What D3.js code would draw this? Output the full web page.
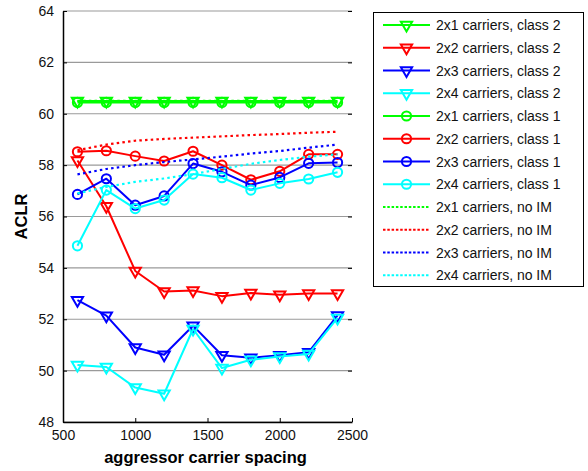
<!DOCTYPE html>
<html>
<head>
<meta charset="utf-8">
<script src="https://cdn.jsdelivr.net/npm/d3@7"></script>
<style>
  html, body { margin: 0; padding: 0; background: #fff; }
  svg { display: block; font-family: "Liberation Sans", Arial, sans-serif; }
</style>
</head>
<body>
<svg id="chart" width="588" height="471"></svg>
<script>
// Aggressor carrier spacing (x) and ACLR results per configuration
const spacing = [600, 800, 1000, 1200, 1400, 1600, 1800, 2000, 2200, 2400];

const class2_2x1 = [60.5, 60.5, 60.5, 60.5, 60.5, 60.5, 60.5, 60.5, 60.5, 60.5];
const class2_2x2 = [58.18, 56.4, 53.88, 53.08, 53.12, 52.9, 53.02, 52.95, 53.0, 53.0];
const class2_2x3 = [52.74, 52.14, 50.9, 50.62, 51.75, 50.6, 50.5, 50.6, 50.72, 52.15];
const class2_2x4 = [50.22, 50.14, 49.34, 49.1, 51.62, 50.1, 50.42, 50.55, 50.65, 52.05];

const class1_2x1 = [60.44, 60.44, 60.44, 60.44, 60.44, 60.44, 60.44, 60.44, 60.44, 60.44];
const class1_2x2 = [58.52, 58.56, 58.35, 58.16, 58.54, 58.0, 57.43, 57.76, 58.42, 58.42];
const class1_2x3 = [56.86, 57.47, 56.44, 56.8, 58.06, 57.74, 57.22, 57.52, 58.07, 58.1];
const class1_2x4 = [54.86, 57.03, 56.31, 56.64, 57.65, 57.51, 57.03, 57.29, 57.46, 57.72];

const noIM_2x1 = [60.5, 60.5, 60.5, 60.5, 60.5, 60.5, 60.5, 60.5, 60.5, 60.5];
const noIM_2x2 = [58.58, 58.8, 58.95, 59.02, 59.07, 59.12, 59.17, 59.21, 59.26, 59.3];
const noIM_2x3 = [57.64, 57.85, 58.0, 58.12, 58.22, 58.33, 58.45, 58.55, 58.68, 58.8];
const noIM_2x4 = [56.9, 57.15, 57.35, 57.48, 57.65, 57.85, 58.05, 58.2, 58.33, 58.42];

const xTicks = [500, 1000, 1500, 2000, 2500];
const yTicks = [48, 50, 52, 54, 56, 58, 60, 62, 64];
const xTitle = "aggressor carrier spacing";
const yTitle = "ACLR";

const colors = { "2x1": "#00ff00", "2x2": "#ff0000", "2x3": "#0000ff", "2x4": "#00ffff" };

// Draw order follows legend order: class 2, class 1, then no-IM references on top
const series = [
  { name: "2x1 carriers, class 2", key: "2x1", kind: "tri", values: class2_2x1 },
  { name: "2x2 carriers, class 2", key: "2x2", kind: "tri", values: class2_2x2 },
  { name: "2x3 carriers, class 2", key: "2x3", kind: "tri", values: class2_2x3 },
  { name: "2x4 carriers, class 2", key: "2x4", kind: "tri", values: class2_2x4 },
  { name: "2x1 carriers, class 1", key: "2x1", kind: "circ", values: class1_2x1 },
  { name: "2x2 carriers, class 1", key: "2x2", kind: "circ", values: class1_2x2 },
  { name: "2x3 carriers, class 1", key: "2x3", kind: "circ", values: class1_2x3 },
  { name: "2x4 carriers, class 1", key: "2x4", kind: "circ", values: class1_2x4 },
  { name: "2x1 carriers, no IM", key: "2x1", kind: "dot", values: noIM_2x1 },
  { name: "2x2 carriers, no IM", key: "2x2", kind: "dot", values: noIM_2x2 },
  { name: "2x3 carriers, no IM", key: "2x3", kind: "dot", values: noIM_2x3 },
  { name: "2x4 carriers, no IM", key: "2x4", kind: "dot", values: noIM_2x4 }
];

const svg = d3.select("#chart");
const plot = { left: 63, right: 352, top: 11, bottom: 422 };

const x = d3.scaleLinear().domain([500, 2500]).range([plot.left, plot.right]);
const y = d3.scaleLinear().domain([48, 64]).range([plot.bottom, plot.top]);

// Horizontal grid
svg.append("g")
  .selectAll("line")
  .data(yTicks)
  .join("line")
  .attr("x1", plot.left).attr("x2", plot.right)
  .attr("y1", d => y(d)).attr("y2", d => y(d))
  .attr("stroke", "#9a9a9a").attr("stroke-width", 1.2);

// Left axis (ticks point inward)
const yAxis = svg.append("g")
  .attr("transform", `translate(${plot.left},0)`)
  .call(d3.axisLeft(y).tickValues(yTicks).tickFormat(d3.format("d"))
    .tickSizeInner(-4).tickSizeOuter(0).tickPadding(9));
// Bottom axis
const xAxis = svg.append("g")
  .attr("transform", `translate(0,${plot.bottom})`)
  .call(d3.axisBottom(x).tickValues(xTicks).tickFormat(d3.format("d"))
    .tickSizeInner(-4).tickSizeOuter(0).tickPadding(8));
// Right-side ticks only
svg.append("g")
  .attr("transform", `translate(${plot.right},0)`)
  .call(d3.axisRight(y).tickValues(yTicks).tickSizeInner(-4).tickSizeOuter(0).tickFormat(""))
  .select(".domain").remove();

[yAxis, xAxis].forEach(a => {
  a.select(".domain").attr("stroke", "#000").attr("stroke-width", 1.5);
  a.selectAll(".tick line").attr("stroke", "#000").attr("stroke-width", 1);
  a.selectAll(".tick text").attr("fill", "#111").style("font-size", "14px")
    .style("font-family", "'Liberation Sans', Arial, sans-serif");
});

// Axis titles
svg.append("text")
  .attr("x", (plot.left + plot.right) / 2 - 2).attr("y", 463)
  .attr("text-anchor", "middle")
  .style("font-size", "16.5px").style("font-weight", "bold")
  .text(xTitle);
svg.append("text")
  .attr("transform", `translate(27,${(plot.top + plot.bottom) / 2}) rotate(-90)`)
  .attr("text-anchor", "middle")
  .style("font-size", "16.5px").style("font-weight", "bold")
  .text(yTitle);

// Downward triangle marker centred on the data point
const triR = 6.5;
const triPath = `M${-triR * 0.866},${-triR / 2}L${triR * 0.866},${-triR / 2}L0,${triR}Z`;

function drawMarker(g, kind, color) {
  if (kind === "tri") {
    g.append("path").attr("d", triPath)
      .attr("fill", "none").attr("stroke", color).attr("stroke-width", 2)
      .attr("stroke-linejoin", "miter");
  } else if (kind === "circ") {
    g.append("circle").attr("r", 4.6)
      .attr("fill", "none").attr("stroke", color).attr("stroke-width", 2);
  }
}

const line = d3.line().x((d, i) => x(spacing[i])).y(d => y(d));

const dataLayer = svg.append("g");
series.forEach(s => {
  const color = colors[s.key];
  const g = dataLayer.append("g");
  g.append("path")
    .attr("d", line(s.values))
    .attr("fill", "none")
    .attr("stroke", color)
    .attr("stroke-width", s.kind === "dot" ? 2.2 : 2)
    .attr("stroke-dasharray", s.kind === "dot" ? "2.5,3.2" : null)
    .attr("stroke-linejoin", "round");
  if (s.kind !== "dot") {
    s.values.forEach((v, i) => {
      const m = g.append("g").attr("transform", `translate(${x(spacing[i])},${y(v)})`);
      drawMarker(m, s.kind, color);
    });
  }
});

// Legend
const leg = { left: 373, top: 12, right: 583, bottom: 286 };
svg.append("rect")
  .attr("x", leg.left + 0.5).attr("y", leg.top + 0.5)
  .attr("width", leg.right - leg.left).attr("height", leg.bottom - leg.top)
  .attr("fill", "#fff").attr("stroke", "#000").attr("stroke-width", 1);

const rowStep = 22.75;
series.forEach((s, i) => {
  const cy = leg.top + 13 + i * rowStep;
  const color = colors[s.key];
  const g = svg.append("g");
  g.append("line")
    .attr("x1", 383).attr("x2", 430).attr("y1", cy).attr("y2", cy)
    .attr("stroke", color)
    .attr("stroke-width", s.kind === "dot" ? 2.2 : 2)
    .attr("stroke-dasharray", s.kind === "dot" ? "2.5,1.8" : null);
  if (s.kind !== "dot") {
    const m = g.append("g").attr("transform", `translate(406.5,${cy})`);
    drawMarker(m, s.kind, color);
  }
  g.append("text")
    .attr("x", 436).attr("y", cy + 5)
    .style("font-size", "14px").attr("fill", "#111")
    .text(s.name);
});
</script>
</body>
</html>
